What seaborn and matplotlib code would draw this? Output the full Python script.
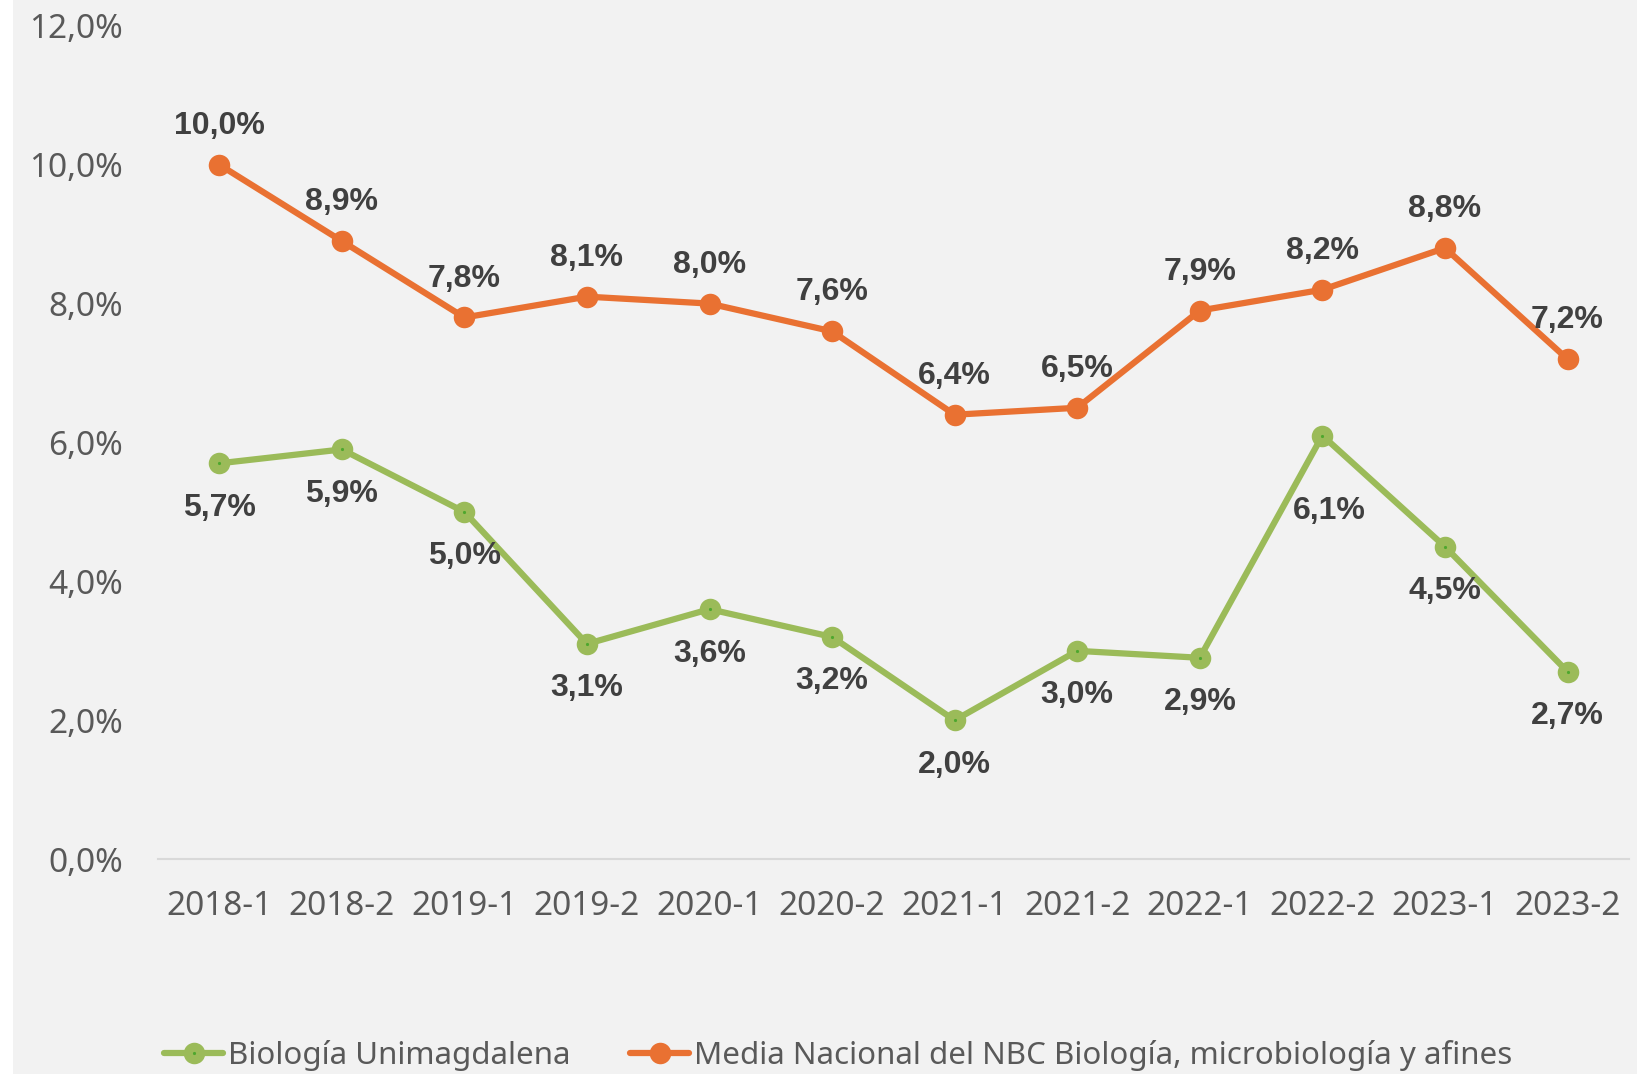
import matplotlib
matplotlib.use("Agg")
import matplotlib.pyplot as plt
import matplotlib.patches as mpatches
import seaborn as sns
import pandas as pd

periods = ["2018-1", "2018-2", "2019-1", "2019-2", "2020-1", "2020-2",
           "2021-1", "2021-2", "2022-1", "2022-2", "2023-1", "2023-2"]
unimag = [5.7, 5.9, 5.0, 3.1, 3.6, 3.2, 2.0, 3.0, 2.9, 6.1, 4.5, 2.7]
nacional = [10.0, 8.9, 7.8, 8.1, 8.0, 7.6, 6.4, 6.5, 7.9, 8.2, 8.8, 7.2]
name_unimag = "Biología Unimagdalena"
name_nac = "Media Nacional del NBC Biología, microbiología y afines"
yticks = [0, 2, 4, 6, 8, 10, 12]

GREEN = "#9BBB59"
GREEN_DOT = "#4EA72E"
ORANGE = "#E97132"
TICK = "#595959"
LABEL = "#404040"
BG = "#F2F2F2"

sns.set_theme(style="white")
plt.rcParams["font.family"] = ["Noto Sans", "DejaVu Sans"]

fig = plt.figure(figsize=(16.37, 10.74), dpi=100, facecolor=BG)
fig.patches.append(mpatches.Rectangle((0, 0), 13 / 1637, 1, transform=fig.transFigure,
                                      facecolor="white", edgecolor="none", zorder=-10))
ax = fig.add_axes([0.0965, 0.200, 0.8985, 0.776])
ax.set_facecolor(BG)

df_u = pd.DataFrame({"periodo": periods, "valor": unimag})
df_n = pd.DataFrame({"periodo": periods, "valor": nacional})

sns.lineplot(data=df_u, x="periodo", y="valor", ax=ax, sort=False, color=GREEN,
             linewidth=4.5, marker="o", markersize=9, markeredgewidth=6.5,
             markeredgecolor=GREEN, markerfacecolor=GREEN_DOT, label=name_unimag)
sns.lineplot(data=df_n, x="periodo", y="valor", ax=ax, sort=False, color=ORANGE,
             linewidth=4.5, marker="o", markersize=15.5, markeredgewidth=0,
             markerfacecolor=ORANGE, label=name_nac)

lab_font = dict(fontsize=23, fontweight="bold", color=LABEL,
                family=["Liberation Sans", "DejaVu Sans"])
# label offsets (points); one label moved further down, as in the original
green_offsets = {9: (5, -54)}
for i, v in enumerate(unimag):
    off = green_offsets.get(i, (0, -32))
    ax.annotate(f"{v:.1f}%".replace(".", ","), (i, v), xytext=off,
                textcoords="offset points", ha="center", va="center", **lab_font)
for i, v in enumerate(nacional):
    ax.annotate(f"{v:.1f}%".replace(".", ","), (i, v), xytext=(0, 28),
                textcoords="offset points", ha="center", va="center", **lab_font)

ax.set_xlim(-0.5, len(periods) - 0.5)
ax.set_ylim(0, 12)
ax.set_yticks(yticks)
ax.set_yticklabels([f"{t:.1f}%".replace(".", ",") for t in yticks])
ax.set_xlabel("")
ax.set_ylabel("")
ax.tick_params(axis="both", length=0, labelsize=24, labelcolor=TICK)
ax.tick_params(axis="y", pad=25)
ax.tick_params(axis="x", pad=22)
for s in ["top", "right", "left"]:
    ax.spines[s].set_visible(False)
ax.spines["bottom"].set_color("#D9D9D9")
ax.spines["bottom"].set_linewidth(1.5)

handles, labels = ax.get_legend_handles_labels()
ax.legend(handles, labels, loc="lower center", bbox_to_anchor=(0.512, -0.023),
          bbox_transform=fig.transFigure, ncol=2, frameon=False, fontsize=22.5,
          labelcolor=TICK, handlelength=1.9, handletextpad=0.15, columnspacing=1.9)

fig.savefig("out.png", dpi=100, facecolor=BG)
